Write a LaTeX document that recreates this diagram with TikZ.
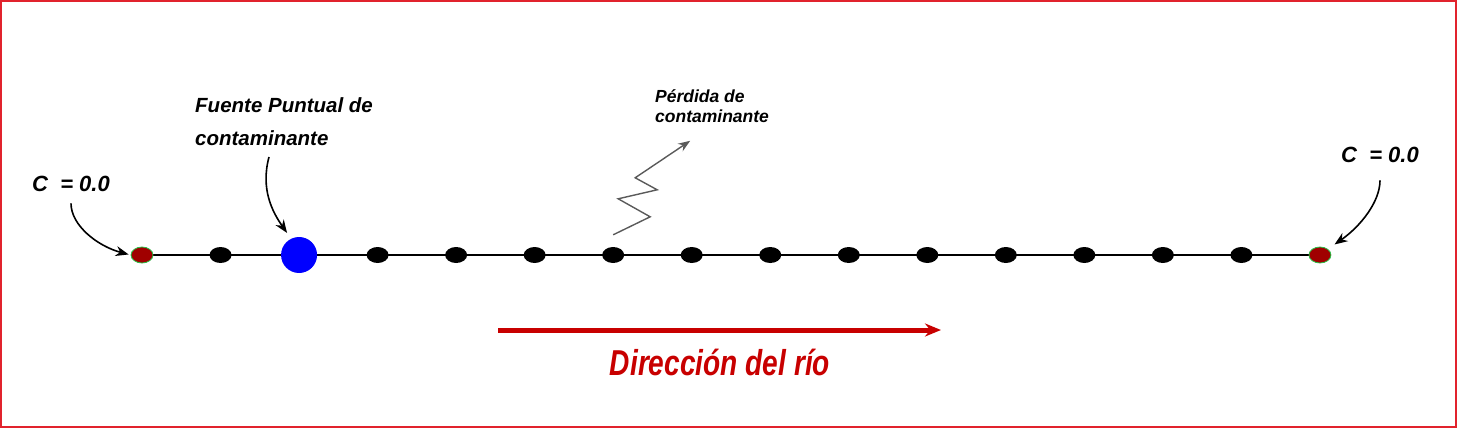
\documentclass[tikz,border=0pt]{standalone}
\usepackage{fontspec}
\setmainfont{Liberation Sans}
\newfontfamily\rotulorio[FakeStretch=0.78]{Liberation Sans}
\usetikzlibrary{arrows.meta, shapes.geometric}
\definecolor{rojoborde}{RGB}{225,35,45}
\definecolor{rojorio}{RGB}{200,0,0}
\definecolor{granate}{RGB}{160,0,0}
\definecolor{verdeborde}{RGB}{40,190,70}
\definecolor{gris}{RGB}{90,90,90}
\pgfmathsetmacro{\paso}{78.53}
\tikzset{
	nodo/.style={ellipse, fill=black, minimum width=22pt, minimum height=16pt, inner sep=0pt},
	frontera/.style={nodo, fill=granate, draw=verdeborde, line width=0.8pt},
	fuente/.style={circle, fill=blue, minimum size=36pt, inner sep=0pt},
	flecha/.style={line width=1.6pt, arrows={-Stealth[length=13pt, width=10pt]}},
	rotulo/.style={font=\bfseries\itshape\fontsize{20.5}{33}\selectfont, inner sep=0pt, align=left},
	cero/.style={font=\bfseries\itshape\fontsize{22}{26}\selectfont, inner sep=0pt}
}

\begin{document}
\begin{tikzpicture}[x=1pt, y=-1pt]
		\useasboundingbox (0, 0) rectangle (1457, 428);
		\draw[rojoborde, line width=2pt] (1, 1) rectangle (1456, 427);
		% rio y nodos
		\foreach \i in {0,...,15}
			\coordinate (p\i) at (142 + \i*\paso, 255);
		\draw[line width=1.6pt] (p0) -- (p15);
		\foreach \i in {1,3,4,...,14}
			\node[nodo] (n\i) at (p\i) {};
		\node[fuente] (n2) at (p2) {};
		\node[frontera] (n0) at (p0) {};
		\node[frontera] (n15) at (p15) {};
		% rotulos
		\node[cero, anchor=base] (cizq) at (71, 191) {C\ \ = 0.0};
		\node[cero, anchor=base] (cder) at (1380, 162) {C\ \ = 0.0};
		\node[rotulo, anchor=base west] (puntual) at (195, 145) {Fuente Puntual de\\contaminante};
		\node[rotulo, anchor=base west, font=\bfseries\itshape\fontsize{17.5}{19.5}\selectfont] (perdida) at (655, 122) {Pérdida de\\contaminante};
		\coordinate (apuntual) at (269, 157);
		\draw[flecha, shorten <=12pt, shorten >=2pt] (cizq.south) to[out=-90, in=165] (n0.west);
		\draw[flecha, shorten <=18pt, shorten >=8pt] (cder.south) to[out=-90, in=35] (n15.north east);
		\draw[flecha, shorten >=7pt] (apuntual) to[out=-105, in=125] (n2.116);
		% perdida
		\draw[gris, line width=1.4pt, arrows={-Stealth[length=12pt, width=9pt]}] (n6.north) ++(0, -12) -- ++(37, -18) -- ++(-32, -18) -- ++(39, -9) -- ++(-22, -12) -- ++(55, -37);
		% direccion
		\coordinate (rioA) at (498, 330);
		\coordinate (rioB) at (941, 330);
		\draw[rojorio, line width=5pt, arrows={-Stealth[length=16pt, width=13pt]}] (rioA) -- (rioB);
		\node[anchor=base, text=rojorio, inner sep=0pt, font=\rotulorio\bfseries\itshape\fontsize{36}{40}\selectfont] (direccion) at (720, 375) {Dirección del río};
	\end{tikzpicture}
\end{document}
